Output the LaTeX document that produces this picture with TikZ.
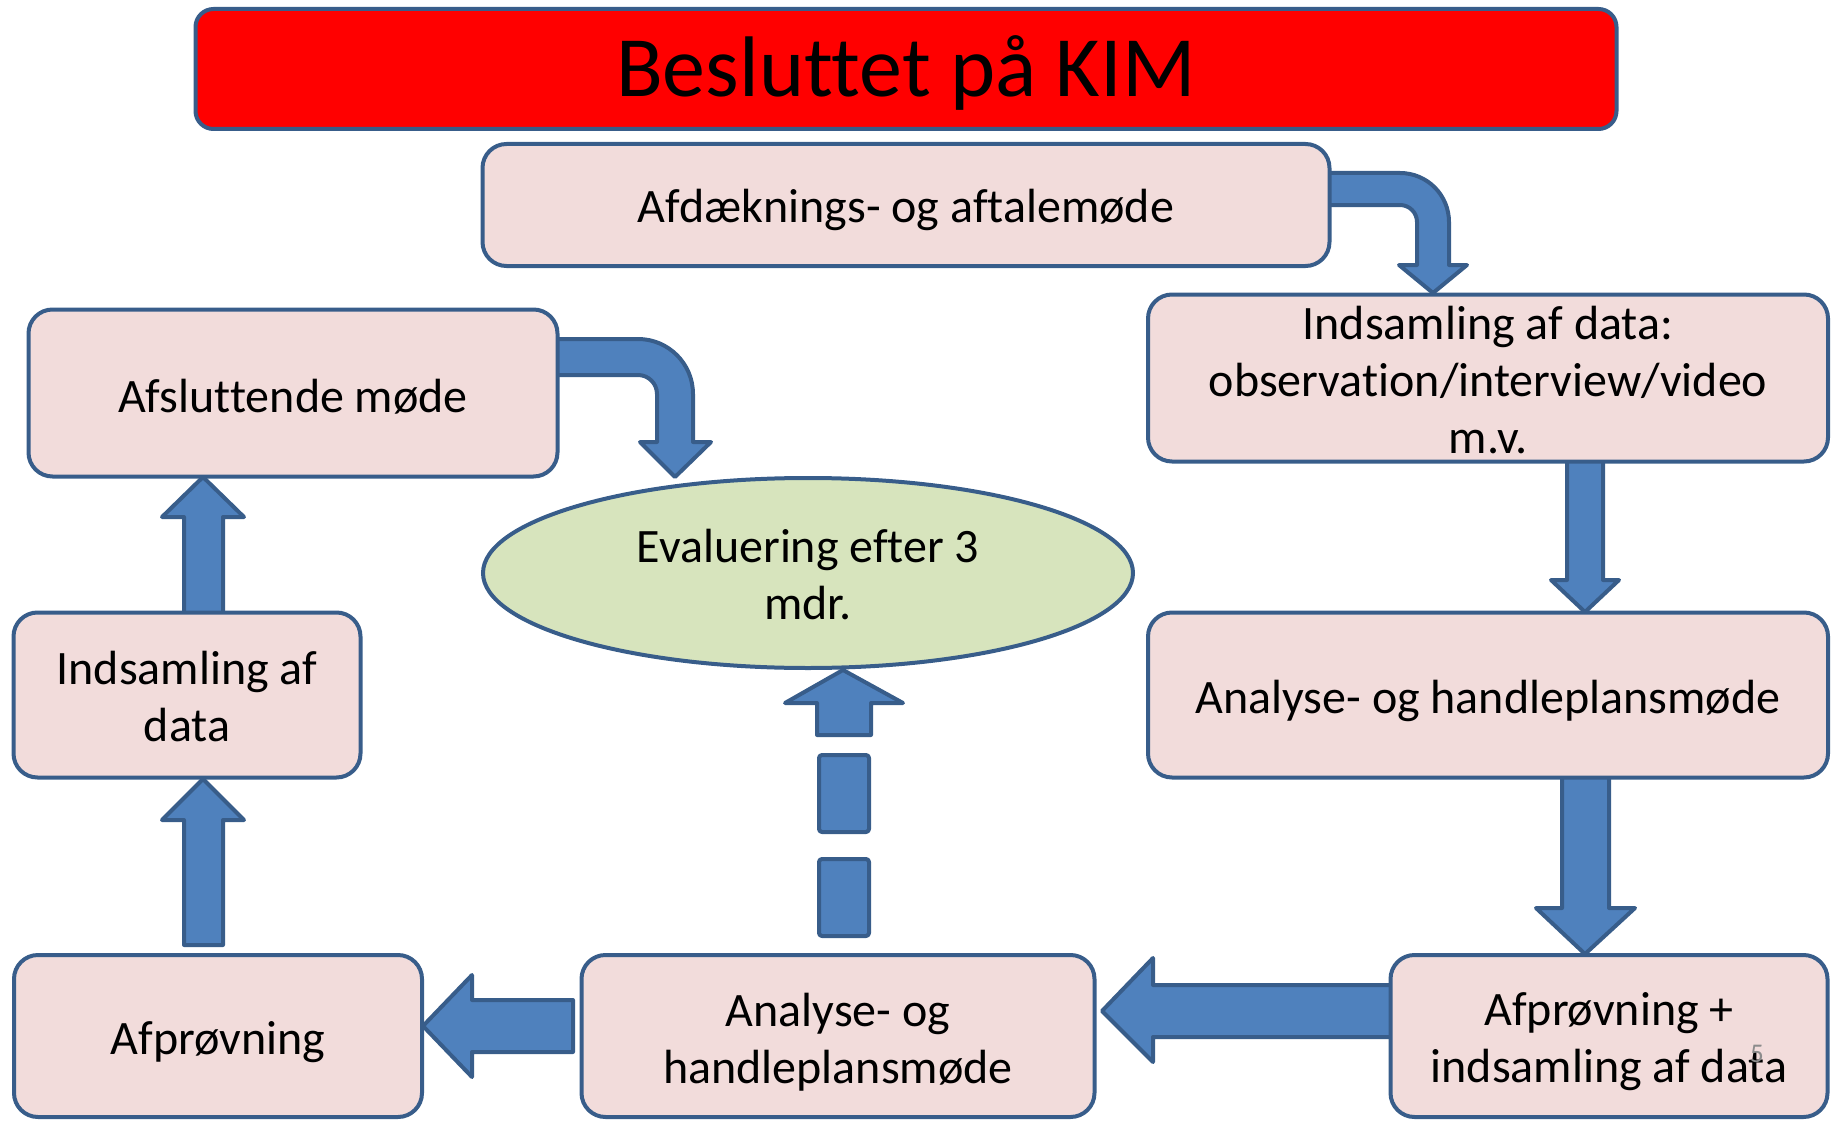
\documentclass[tikz,border=0pt]{standalone}
\usepackage{fontspec}
\setmainfont{Carlito}[Ligatures=NoCommon]
\usetikzlibrary{shapes.geometric}
\definecolor{boxfill}{HTML}{F2DCDB}
\definecolor{edge}{HTML}{385D8A}
\definecolor{arrowfill}{HTML}{4F81BD}
\definecolor{ellfill}{HTML}{D7E4BD}
\definecolor{pagegray}{HTML}{8C8C8C}
\tikzset{
  box/.style={draw=edge, fill=boxfill, line width=4pt, rounded corners=24pt, inner sep=0pt, align=center,
    font=\fontsize{48}{57}\selectfont},
  blockarrow/.style={draw=edge, fill=arrowfill, line width=4pt, line join=round},
}
\begin{document}
\begin{tikzpicture}[x=1pt,y=-1pt]
\useasboundingbox (0,0) rectangle (1837,1121);
% arrows (drawn first, boxes on top)
% A: curved top right
\path[blockarrow] (1328,173) -- (1400,173) arc[start angle=-90,end angle=0,radius=49] -- (1449,265) -- (1467,265) -- (1433,293) -- (1399,265) -- (1417,265) -- (1417,222) arc[start angle=0,end angle=-90,radius=17] -- (1328,205) -- cycle;
% B: curved left
\path[blockarrow] (556,339) -- (638,339) arc[start angle=-90,end angle=0,radius=55] -- (693,442) -- (711,442) -- (675,477) -- (640,442) -- (657,442) -- (657,394) arc[start angle=0,end angle=-90,radius=19] -- (556,375) -- cycle;
% C: down right
\path[blockarrow] (1567,460) -- (1603,460) -- (1603,580) -- (1619,580) -- (1585,612) -- (1551,580) -- (1567,580) -- cycle;
% D: down right lower
\path[blockarrow] (1562,776) -- (1609,776) -- (1609,908) -- (1635,908) -- (1585,954) -- (1536,908) -- (1562,908) -- cycle;
% E: left lower right
\path[blockarrow] (1392,985) -- (1153,985) -- (1153,958) -- (1102,1011) -- (1153,1062) -- (1153,1037) -- (1392,1037) -- cycle;
% F: left lower left
\path[blockarrow] (573,1000) -- (472,1000) -- (472,975) -- (423,1026) -- (472,1077) -- (472,1052) -- (573,1052) -- cycle;
% G: up lower left
\path[blockarrow] (184,945) -- (184,820) -- (162,820) -- (203,779) -- (244,820) -- (223,820) -- (223,945) -- cycle;
% H: up upper left
\path[blockarrow] (184,615) -- (184,517) -- (162,517) -- (203,477) -- (244,517) -- (223,517) -- (223,615) -- cycle;
% dashed arrow
\path[blockarrow] (817,735) -- (817,703) -- (785,703) -- (843,670) -- (903,703) -- (871,703) -- (871,735) -- cycle;
\path[blockarrow, rounded corners=3pt] (819,755) rectangle (869,832);
\path[blockarrow, rounded corners=3pt] (819,859) rectangle (869,936);
% title
\node[draw=edge, fill=red, line width=4pt, rounded corners=18pt, minimum width=1421pt, minimum height=120pt, inner sep=0pt,
  font=\fontsize{86}{94}\selectfont] (title) at (906,69) {};
\node[font=\fontsize{86}{94}\selectfont, inner sep=0pt] (titlet) at (906,73) {Besluttet på KIM};
% boxes
\node[box, minimum width=847pt, minimum height=122pt] (afd) at (906,205) {};
\node[box, draw=none, fill=none] (afdt) at (906,210) {Afdæknings- og aftalemøde};
\node[box, minimum width=680pt, minimum height=167pt] (ind1) at (1488,378) {};
\node[box, draw=none, fill=none] (ind1t) at (1488,380) {Indsamling af data:\\observation/interview/video\\m.v.};
\node[box, minimum width=529pt, minimum height=167pt] (afs) at (293,393) {};
\node[box, draw=none, fill=none] (afst) at (293,397) {Afsluttende møde};
\node[draw=edge, fill=ellfill, line width=4pt, ellipse, minimum width=650pt, minimum height=190pt, inner sep=0pt] (eval) at (808,573) {};
\node[box, draw=none, fill=none] (evalt) at (808,575) {Evaluering efter 3\\mdr.};
\node[box, minimum width=347pt, minimum height=165pt] (ind2) at (187,695) {};
\node[box, draw=none, fill=none] (ind2t) at (187,697) {Indsamling af\\data};
\node[box, minimum width=680pt, minimum height=165pt] (ana1) at (1488,695) {};
\node[box, draw=none, fill=none] (ana1t) at (1488,701) {Analyse- og handleplansmøde};
\node[box, minimum width=408pt, minimum height=162pt] (afp1) at (218,1036) {};
\node[box, draw=none, fill=none] (afp1t) at (218,1042) {Afprøvning};
\node[box, minimum width=513pt, minimum height=162pt] (ana2) at (838,1036) {};
\node[box, draw=none, fill=none] (ana2t) at (838,1042) {Analyse- og\\handleplansmøde};
\node[box, minimum width=437pt, minimum height=162pt] (afp2) at (1609,1036) {};
\node[box, draw=none, fill=none] (afp2t) at (1609,1042) {Afprøvning +\\indsamling af data};
\node[text=pagegray, font=\fontsize{27}{30}\selectfont, inner sep=0pt] (page) at (1757,1054) {5};
\end{tikzpicture}
\end{document}
